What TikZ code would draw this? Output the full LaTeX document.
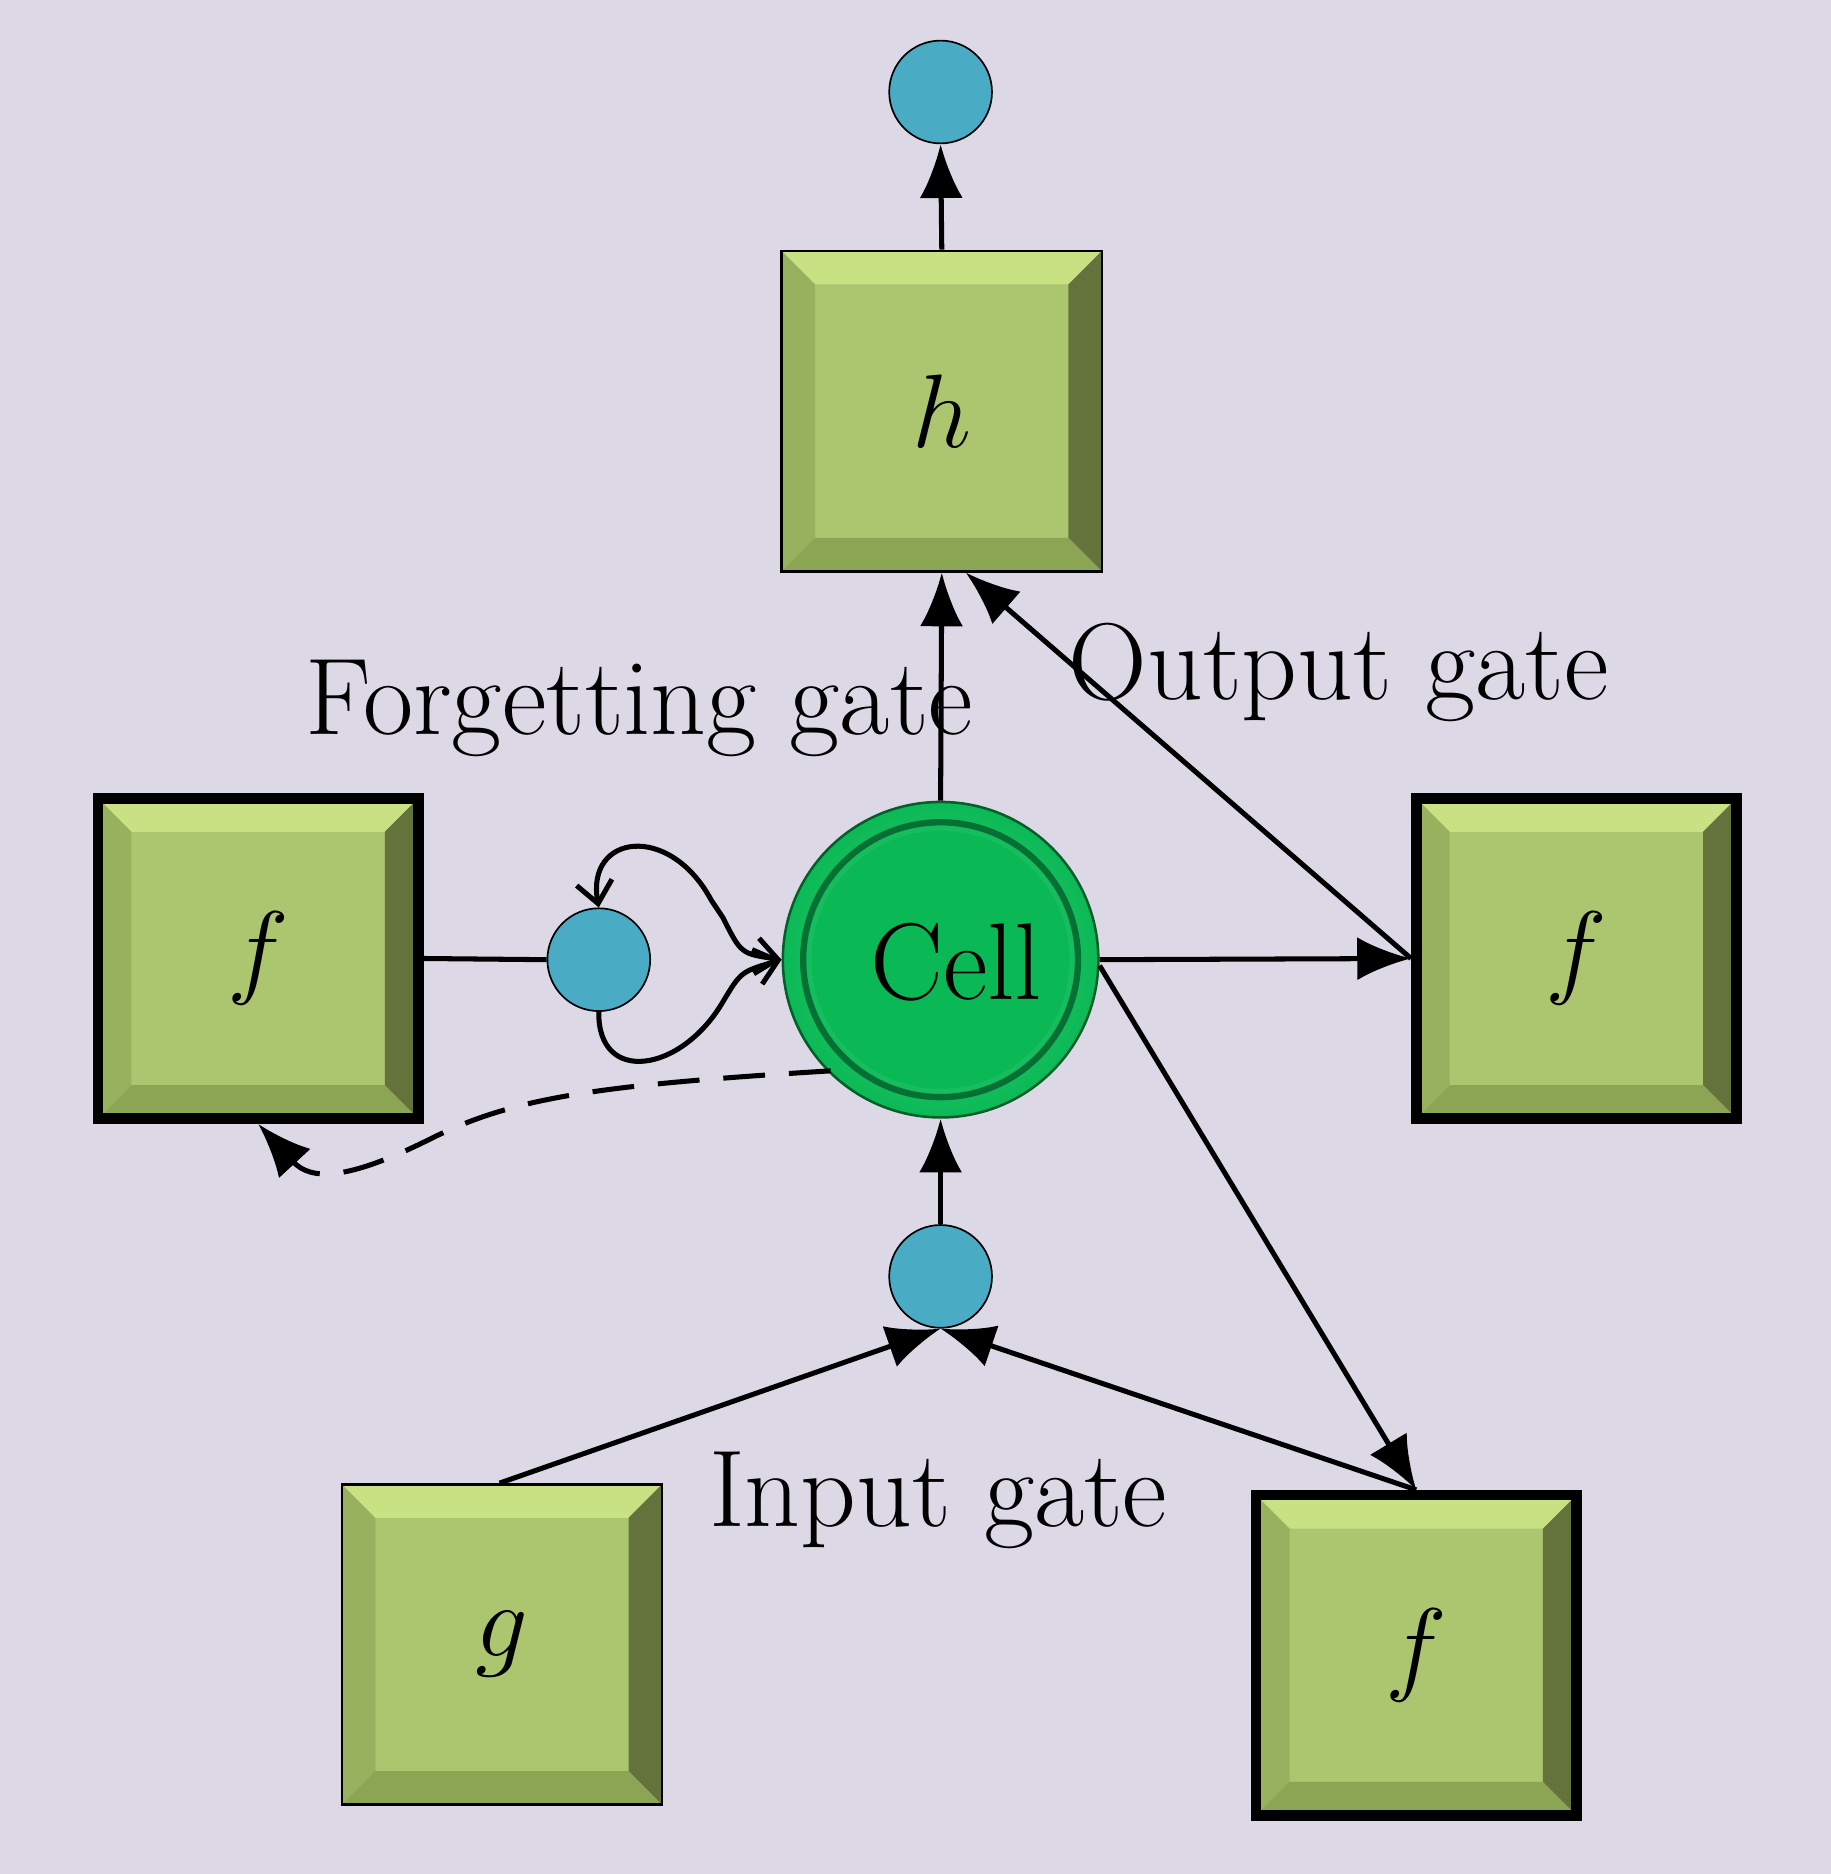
\documentclass[tikz,border=0pt]{standalone}
\usetikzlibrary{arrows.meta,calc}
\definecolor{bgcol}{RGB}{221,216,230}
\definecolor{boxgreen}{RGB}{171,198,110}
\definecolor{boxlight}{RGB}{200,225,130}
\definecolor{boxdark}{RGB}{100,115,60}
\definecolor{boxmid}{RGB}{140,165,85}
\definecolor{dotblue}{RGB}{74,171,196}
\definecolor{cellgreen}{RGB}{10,185,85}
\tikzset{
  bbox/.style={rectangle, minimum size=2.68cm, fill=boxgreen, draw=black, line width=#1,
    path picture={
      \path (path picture bounding box.north west) coordinate (nw)
            (path picture bounding box.north east) coordinate (ne)
            (path picture bounding box.south west) coordinate (sw)
            (path picture bounding box.south east) coordinate (se);
      \fill[boxlight] (nw) -- (ne) -- ($(ne)+(-0.28,-0.28)$) -- ($(nw)+(0.28,-0.28)$) -- cycle;
      \fill[boxmid!80!boxlight] (nw) -- (sw) -- ($(sw)+(0.28,0.28)$) -- ($(nw)+(0.28,-0.28)$) -- cycle;
      \fill[boxdark] (se) -- (ne) -- ($(ne)+(-0.28,-0.28)$) -- ($(se)+(-0.28,0.28)$) -- cycle;
      \fill[boxmid] (sw) -- (se) -- ($(se)+(-0.28,0.28)$) -- ($(sw)+(0.28,0.28)$) -- cycle;
    }},
  bbox/.default=0.6pt,
  dot/.style={circle, minimum size=0.86cm, inner sep=0pt, fill=dotblue, draw=black, thin},
  lbl/.style={font=\fontsize{26}{30}\selectfont},
  conn/.style={line width=1.2pt, -{Latex[length=0.45cm,width=0.36cm]}}
}
\begin{document}
\begin{tikzpicture}
  \fill[bgcol] (0,0) rectangle (15.32,15.68);

  % boxes
  \node[bbox] (h) at (7.88,12.24) {\fontsize{26}{30}\selectfont$h$};
  \node[bbox=2.5pt] (fl) at (2.16,7.66) {\fontsize{26}{30}\selectfont$f$};
  \node[bbox=2.5pt] (fr) at (13.19,7.66) {\fontsize{26}{30}\selectfont$f$};
  \node[bbox] (g) at (4.20,1.92) {\fontsize{26}{30}\selectfont$g$};
  \node[bbox=2.5pt] (fb) at (11.85,1.83) {\fontsize{26}{30}\selectfont$f$};

  % dots and cell
  \node[dot] (top) at (7.87,14.91) {};
  \node[dot] (fdot) at (5.01,7.65) {};
  \node[dot] (idot) at (7.87,5.00) {};
  \node[circle, minimum size=2.64cm, inner sep=0pt, draw=cellgreen!50!black, line width=0.6pt,
        inner color=cellgreen!70!white, outer color=cellgreen] (cell) at (7.87,7.65) {};
  \draw[cellgreen!60!black, line width=1.5pt] (cell.center) circle (1.15cm);
  \fill[cellgreen] (cell.center) circle (1.08cm);
  \node[lbl] at (8.0,7.63) {Cell};

  % labels
  \node[lbl] (flbl) at (5.35,9.75) {Forgetting gate};
  \node[lbl] (olbl) at (11.2,10.05) {Output gate};
  \node[lbl] (ilbl) at (7.85,3.13) {Input gate};

  % connectors
  \draw[conn] (h.north) -- (top.south);
  \draw[conn] (cell.north) -- (h.south);
  \draw[conn] (fr.west) -- ($(h.south)+(0.2,0)$);
  \draw[conn] (cell.east) -- (fr.west);
  \draw[conn] ($(cell.east)+(0,-0.05)$) -- (fb.north);
  \draw[conn] (fb.north) -- (idot.south);
  \draw[conn] ($(g.north)+(-0.02,0)$) -- (idot.south);
  \draw[conn] (idot.north) -- (cell.south);
  \draw[line width=1.2pt] (fl.east) -- (fdot.west);
  \draw[line width=1.2pt, {Straight Barb[length=0.18cm,width=0.3cm]}-{Straight Barb[length=0.18cm,width=0.3cm]}]
    (fdot.north) .. controls (4.9,8.7) and (5.6,8.8) .. (5.95,8.15) -- (6.05,8.0) .. controls (6.2,7.7) .. (cell.west);
  \draw[line width=1.2pt, -{Straight Barb[length=0.18cm,width=0.3cm]}]
    (fdot.south) .. controls (5.0,6.6) and (5.7,6.7) .. (6.05,7.3) .. controls (6.2,7.55) .. (cell.west);
  \draw[line width=1.2pt, dashed, dash pattern=on 0.35cm off 0.2cm, -{Latex[length=0.45cm,width=0.36cm]}]
    (6.95,6.72) .. controls (5.0,6.6) and (4.3,6.5) .. (3.6,6.15) .. controls (2.9,5.8) and (2.6,5.8) .. (fl.south);
\end{tikzpicture}
\end{document}
